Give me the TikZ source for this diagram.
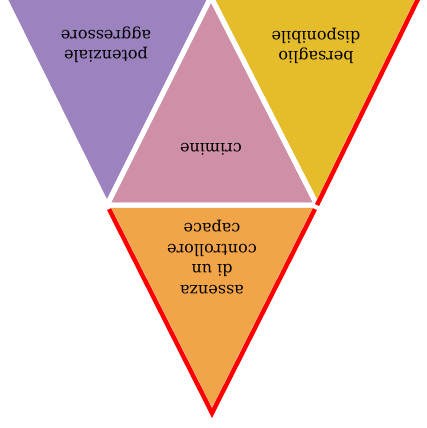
\documentclass[tikz,border=0pt]{standalone}
\usepackage{fontspec}
\setmainfont{DejaVu Serif}
\usetikzlibrary{calc}
\definecolor{cpurple}{HTML}{9C83C0}
\definecolor{cpink}{HTML}{CF8FA6}
\definecolor{cyellow}{HTML}{E5BD2B}
\definecolor{corange}{HTML}{F2A548}
\definecolor{cred}{HTML}{FF0000}
\tikzset{
  tri/.style={line width=5pt, draw=white, line join=miter},
  redline/.style={line width=4.5pt, draw=cred, line join=miter},
  lbl/.style={rotate=180, align=center, font=\fontsize{16}{20.5}\selectfont, inner sep=0pt}
}
\begin{document}
\begin{tikzpicture}[x=1pt,y=-1pt]
\useasboundingbox (0,0) rectangle (426,428);
\coordinate (T1) at (4,-3);
\coordinate (T2) at (211,-3);
\coordinate (T3) at (419,-3);
\coordinate (M1) at (107,205);
\coordinate (M2) at (317,205);
\coordinate (B) at (212,413);
\begin{scope}
\clip (0,0) rectangle (426,428);
\fill[cpurple] (T1) -- (T2) -- (M1) -- cycle;
\fill[cyellow] (T2) -- (T3) -- (M2) -- cycle;
\fill[cpink] (T2) -- (M2) -- (M1) -- cycle;
\fill[corange] (M1) -- (M2) -- (B) -- cycle;
\draw[tri] (T1) -- (T2) -- (M1) -- cycle;
\draw[tri] (T2) -- (T3) -- (M2) -- cycle;
\draw[tri] (M1) -- (M2) -- (B) -- cycle;
\draw[tri] (T2) -- (M2) -- (M1) -- cycle;
\draw[redline] (T3) -- (M2);
\draw[redline] ($(M1)!0.02!(B)$) -- (B) -- ($(M2)!0.02!(B)$);
\end{scope}
\node[lbl] (pa) at (106,45) {potenziale\\aggressore};
\node[lbl] (bd) at (316,46) {bersaglio\\disponibile};
\node[lbl] (cr) at (211,149) {crimine};
\node[lbl] (ac) at (212,257) {assenza\\di un\\controllore\\capace};
\end{tikzpicture}
\end{document}
